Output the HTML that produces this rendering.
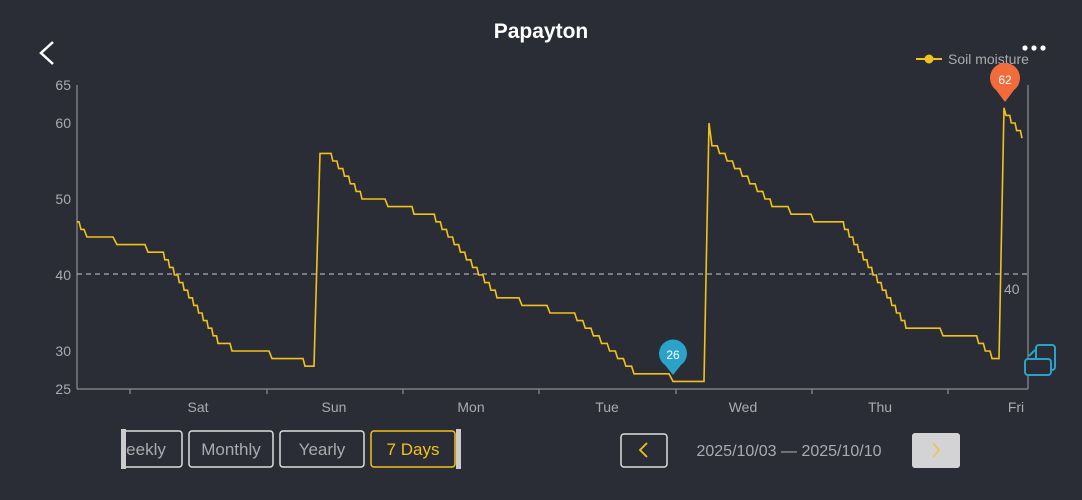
<!DOCTYPE html>
<html><head><meta charset="utf-8"><style>
html,body{margin:0;padding:0;background:#2a2d35;width:1082px;height:500px;overflow:hidden;font-family:"Liberation Sans",sans-serif}
svg{position:absolute;left:0;top:0}
</style></head><body>
<svg width="1082" height="500" xmlns="http://www.w3.org/2000/svg">
<rect width="1082" height="500" fill="#2a2d35"/>
<text x="541" y="38" fill="#fff" font-size="21" font-weight="bold" text-anchor="middle">Papayton</text>
<polyline points="53,42 41,53 53,64" fill="none" stroke="#fff" stroke-width="2.5"/>
<circle cx="1025" cy="48" r="2.6" fill="#fff"/><circle cx="1034" cy="48" r="2.6" fill="#fff"/><circle cx="1043" cy="48" r="2.6" fill="#fff"/>
<line x1="916" y1="59" x2="942" y2="59" stroke="#f2c21b" stroke-width="2"/><circle cx="929" cy="59" r="4.5" fill="#f2c21b"/>
<text x="948" y="64" fill="#a9abb0" font-size="14">Soil moisture</text>
<g fill="#a9abb0" font-size="14" text-anchor="end">
<text x="71" y="90">65</text><text x="71" y="128">60</text><text x="71" y="204">50</text><text x="71" y="280">40</text><text x="71" y="356">30</text><text x="71" y="394">25</text>
</g>
<line x1="77" y1="85" x2="77" y2="389" stroke="#8d8f94" stroke-width="1.2"/>
<line x1="1028" y1="85" x2="1028" y2="389" stroke="#8d8f94" stroke-width="1.2"/>
<line x1="77" y1="389" x2="1028" y2="389" stroke="#8d8f94" stroke-width="1.2"/>
<g stroke="#8d8f94" stroke-width="1.2">
<line x1="130" y1="389" x2="130" y2="394"/><line x1="267" y1="389" x2="267" y2="394"/><line x1="403" y1="389" x2="403" y2="394"/><line x1="539" y1="389" x2="539" y2="394"/><line x1="676" y1="389" x2="676" y2="394"/><line x1="812" y1="389" x2="812" y2="394"/><line x1="948" y1="389" x2="948" y2="394"/>
</g>
<g fill="#a9abb0" font-size="14" text-anchor="middle">
<text x="198" y="412">Sat</text><text x="334" y="412">Sun</text><text x="471" y="412">Mon</text><text x="607" y="412">Tue</text><text x="743" y="412">Wed</text><text x="880" y="412">Thu</text><text x="1016" y="412">Fri</text>
</g>
<line x1="77" y1="274" x2="1028" y2="274" stroke="#a9abb0" stroke-width="1.2" stroke-dasharray="5,4"/>
<text x="1004" y="294" fill="#a9abb0" font-size="14">40</text>
<polyline id="ser" fill="none" stroke="#f2c21b" stroke-width="1.6" points=""/>
<g transform="translate(673,355)"><path d="M0,20 L-8,10 A14,14 0 1,1 8,10 Z" fill="#2ba3c9"/><text x="0" y="4" fill="#fff" font-size="12" text-anchor="middle">26</text></g>
<g transform="translate(1005,80)"><path d="M0,22 L-9,10 A15,15 0 1,1 9,10 Z" fill="#f26c3b"/><text x="0" y="4" fill="#fff" font-size="12" text-anchor="middle">62</text></g>
<g fill="none" stroke="#2ba3c9" stroke-width="2"><rect x="1036" y="345" width="19" height="25" rx="3"/><rect x="1025" y="359" width="26" height="16" rx="3" fill="#2a2d35"/><line x1="1029" y1="356" x2="1035" y2="350"/></g>
<g font-size="17" text-anchor="middle">
<rect x="123" y="431" width="59" height="36" rx="3" fill="none" stroke="#ddd" stroke-width="1.5"/><text x="146" y="455" fill="#a9abb0">eekly</text>
<rect x="189" y="431" width="84" height="36" rx="3" fill="none" stroke="#ddd" stroke-width="1.5"/><text x="231" y="455" fill="#a9abb0">Monthly</text>
<rect x="280" y="431" width="84" height="36" rx="3" fill="none" stroke="#ddd" stroke-width="1.5"/><text x="322" y="455" fill="#a9abb0">Yearly</text>
<rect x="371" y="431" width="84" height="36" rx="3" fill="none" stroke="#f2c21b" stroke-width="1.5"/><text x="413" y="455" fill="#f2c21b">7 Days</text>
<rect x="121" y="429" width="5" height="40" fill="#ccc"/><rect x="456" y="429" width="5" height="40" fill="#ccc"/>
<rect x="621" y="434" width="46" height="33" rx="3" fill="none" stroke="#ddd" stroke-width="1.5"/>
<polyline points="647,443 640,450 647,457" fill="none" stroke="#f2c21b" stroke-width="1.8"/>
<text x="789" y="456" fill="#a9abb0" font-size="16">2025/10/03 — 2025/10/10</text>
<rect x="912" y="433" width="48" height="35" rx="3" fill="#d3d3d6"/>
<polyline points="933,443 939,450 933,457" fill="none" stroke="#e8c65a" stroke-width="1.8"/>
</g>
</svg>
<script>
function Y(v){return 389-(v-25)*7.6;}
var pts=[];
function P(x,v){pts.push(x+","+Y(v).toFixed(1));}
// flat/step list: [xstart,xend,value]
function stairs(x0,x1,v0,v1){var n=v0-v1;var w=(x1-x0)/n;for(var i=0;i<n;i++){var xs=x0+i*w;P(xs,v0-i);P(xs+w*0.7,v0-i);P(xs+w,v0-i-1);}}
function flat(x0,x1,v){P(x0,v);P(x1,v);}
flat(77,79,47);P(81,46);flat(81,84,46);P(87,45);flat(87,113,45);P(117,44);flat(117,145,44);P(148,43);flat(148,160,43);
stairs(160,218,43,31);flat(218,230,31);P(232,30);flat(232,269,30);P(272,29);flat(272,303,29);P(305,28);flat(305,314,28);
P(320,56);flat(320,327,56);stairs(327,362,56,50);flat(362,385,50);P(388,49);flat(388,412,49);P(414,48);flat(414,430,48);
stairs(430,497,48,37);flat(497,519,37);P(522,36);flat(522,547,36);P(550,35);flat(550,569,35);
stairs(569,634,35,27);flat(634,669,27);P(673,26);flat(673,704,26);
P(709,60);P(712,57);stairs(712,765,57,50);flat(765,770,50);P(772,49);flat(772,788,49);P(791,48);flat(791,811,48);P(814,47);flat(814,840,47);
stairs(840,906,47,33);flat(906,940,33);P(943,32);flat(943,972,32);stairs(972,992,32,29);flat(992,999,29);
P(1004,62);stairs(1006,1022,61,58);
document.getElementById("ser").setAttribute("points",pts.join(" "));
</script>
</body></html>
